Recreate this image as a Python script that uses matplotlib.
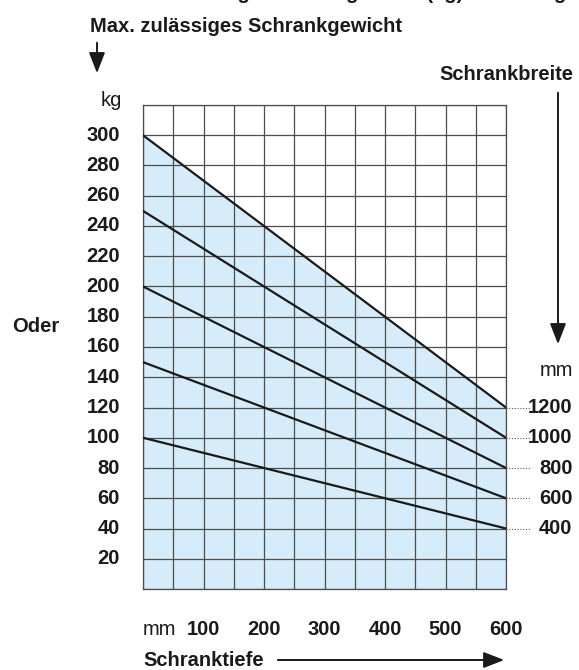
import matplotlib
matplotlib.use("Agg")
import matplotlib.pyplot as plt
import numpy as np

plt.rcParams['font.family'] = ['Liberation Sans', 'DejaVu Sans']

# Schranktiefe (mm) -> max. Gewicht (kg) je Schrankbreite
tiefe = [0, 600]
breiten = ['1200', '1000', '800', '600', '400']
gewicht = {
    '1200': [300, 120],
    '1000': [250, 100],
    '800': [200, 80],
    '600': [150, 60],
    '400': [100, 40],
}
x_ticks = [100, 200, 300, 400, 500, 600]
y_ticks = [20, 40, 60, 80, 100, 120, 140, 160, 180, 200, 220, 240, 260, 280, 300]

fill_col = '#d6ecfa'
grid_col = '#4d4d4d'

fig = plt.figure(figsize=(5.79, 6.70), dpi=100)
ax = fig.add_axes([143/579, 1 - 589/670, 363/579, 484/670])

ax.fill_between(tiefe, gewicht['1200'], 0, color=fill_col, lw=0, zorder=1)
for b in breiten:
    ax.plot(tiefe, gewicht[b], color='#1a1a1a', lw=1.6, zorder=3)

ax.set_xlim(0, 600)
ax.set_ylim(0, 320)
ax.set_xticks(np.arange(0, 601, 50))
ax.set_yticks(np.arange(0, 321, 20))
ax.tick_params(length=0, labelbottom=False, labelleft=False)
ax.grid(True, color=grid_col, lw=0.9)
ax.set_axisbelow(False)
for s in ax.spines.values():
    s.set_color(grid_col)
    s.set_linewidth(0.9)

bold = dict(fontsize=14.5, fontweight='bold', color='#1a1a1a')
norm = dict(fontsize=14.5, color='#1a1a1a')

# y labels
for v in y_ticks:
    ax.text(-38, v, str(v), ha='right', va='center', clip_on=False, **bold)

# x labels
for v in x_ticks:
    ax.text(v, -26.5, str(v), ha='center', va='center', clip_on=False, **bold)
ax.text(0, -26.5, 'mm', ha='left', va='center', clip_on=False, **norm)

# right labels with dotted leaders
for b in breiten:
    end = gewicht[b][1]
    ax.plot([600, 640], [end, end], color='#555555', lw=0.8, ls=(0, (1, 1.5)),
            clip_on=False, zorder=3)
    ax.text(710, end, b, ha='right', va='center', clip_on=False, **bold)

# texts around
fig.text(566/579, 1 + 1/670, 'Max. zulässige Schrankgewicht (kg) Belastung',
         ha='right', va='baseline', **bold)
fig.text(90/579, 1 - 26/670, 'Max. zulässiges Schrankgewicht', ha='left', va='center', **bold)
fig.text(101/579, 1 - 101/670, 'kg', ha='left', va='center', **norm)
fig.text(573/579, 1 - 75/670, 'Schrankbreite', ha='right', va='center', **bold)
fig.text(573/579, 1 - 371/670, 'mm', ha='right', va='center', **norm)
fig.text(12/579, 1 - 327/670, 'Oder', ha='left', va='center', **bold)
fig.text(143/579, 1 - 661/670, 'Schranktiefe', ha='left', va='center', **bold)

arrow = dict(arrowstyle='-|>,head_length=0.9,head_width=0.35', color='#1a1a1a', lw=1.4)
fig.add_artist(matplotlib.patches.FancyArrowPatch(
    (97/579, 1 - 40/670), (97/579, 1 - 76/670), transform=fig.transFigure,
    mutation_scale=14, **arrow))
fig.add_artist(matplotlib.patches.FancyArrowPatch(
    (558/579, 1 - 90/670), (558/579, 1 - 347/670), transform=fig.transFigure,
    mutation_scale=14, **arrow))
fig.add_artist(matplotlib.patches.FancyArrowPatch(
    (275/579, 1 - 660/670), (507/579, 1 - 660/670), transform=fig.transFigure,
    mutation_scale=14, **arrow))

fig.savefig('out.png', dpi=100)
